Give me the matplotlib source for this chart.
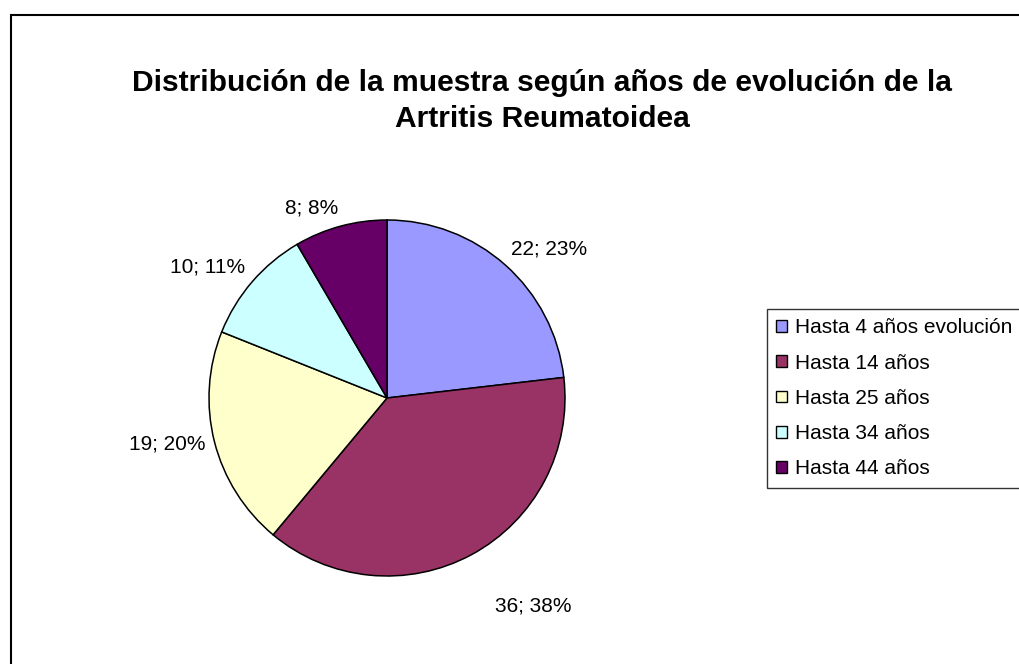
import numpy as np
import matplotlib
matplotlib.use('Agg')
import matplotlib.pyplot as plt
from matplotlib.patches import Rectangle, Patch

plt.rcParams['font.family'] = ['Liberation Sans', 'DejaVu Sans']

# Datos del gráfico
titulo = 'Distribución de la muestra según años de evolución de la\nArtritis Reumatoidea'
categorias = ['Hasta 4 años evolución', 'Hasta 14 años', 'Hasta 25 años',
              'Hasta 34 años', 'Hasta 44 años']
valores = [22, 36, 19, 10, 8]
colores = ['#9999FF', '#993366', '#FFFFCC', '#CCFFFF', '#660066']

# Distancia radial de cada etiqueta (estilo)
dist_etiqueta = [1.05, 1.27, 1.05, 1.05, 1.05]

W, H = 1020, 664
fig = plt.figure(figsize=(W / 100, H / 100), dpi=100)

# Marco exterior (cortado a la derecha y abajo como en el original)
fig.patches.append(Rectangle((11 / W, -0.1), 1.2, 1 - 15 / H + 0.1,
                             transform=fig.transFigure, fill=False,
                             edgecolor='black', linewidth=1.5))

fig.text(542 / W, 1 - 101 / H, titulo, ha='center', va='center',
         fontsize=21.6, fontweight='bold', linespacing=1.32)

# Tarta
cx, cy, r = 387, 398, 178
ax = fig.add_axes([(cx - r) / W, (H - cy - r) / H, 2 * r / W, 2 * r / H])
wedges, _ = ax.pie(valores, colors=colores, startangle=90, counterclock=False,
                   radius=1, wedgeprops=dict(edgecolor='black', linewidth=1.1))
ax.set_xlim(-1, 1)
ax.set_ylim(-1, 1)
ax.set_aspect('equal')
ax.axis('off')

total = sum(valores)
for w, v, d in zip(wedges, valores, dist_etiqueta):
    ang = np.deg2rad((w.theta1 + w.theta2) / 2)
    x, y = d * np.cos(ang), d * np.sin(ang)
    ha = 'left' if x > 0 else 'right'
    va = 'bottom' if y > 0 else 'top'
    if abs(y) < 0.5:
        va = 'center'
    ax.text(x, y, f'{v}; {round(100 * v / total)}%', ha=ha, va=va,
            fontsize=15, clip_on=False)

handles = [Patch(facecolor=c, edgecolor='black', linewidth=1) for c in colores]
leg = fig.legend(handles, categorias, loc='upper left',
                 bbox_to_anchor=(767 / W, 1 - 309 / H), fontsize=15,
                 frameon=True, fancybox=False, edgecolor='black',
                 handlelength=0.5, handleheight=0.5, handletextpad=0.4,
                 labelspacing=0.78, borderpad=0.45, borderaxespad=0)
leg.get_frame().set_linewidth(1)

fig.savefig('out.png', dpi=100, facecolor='white')
